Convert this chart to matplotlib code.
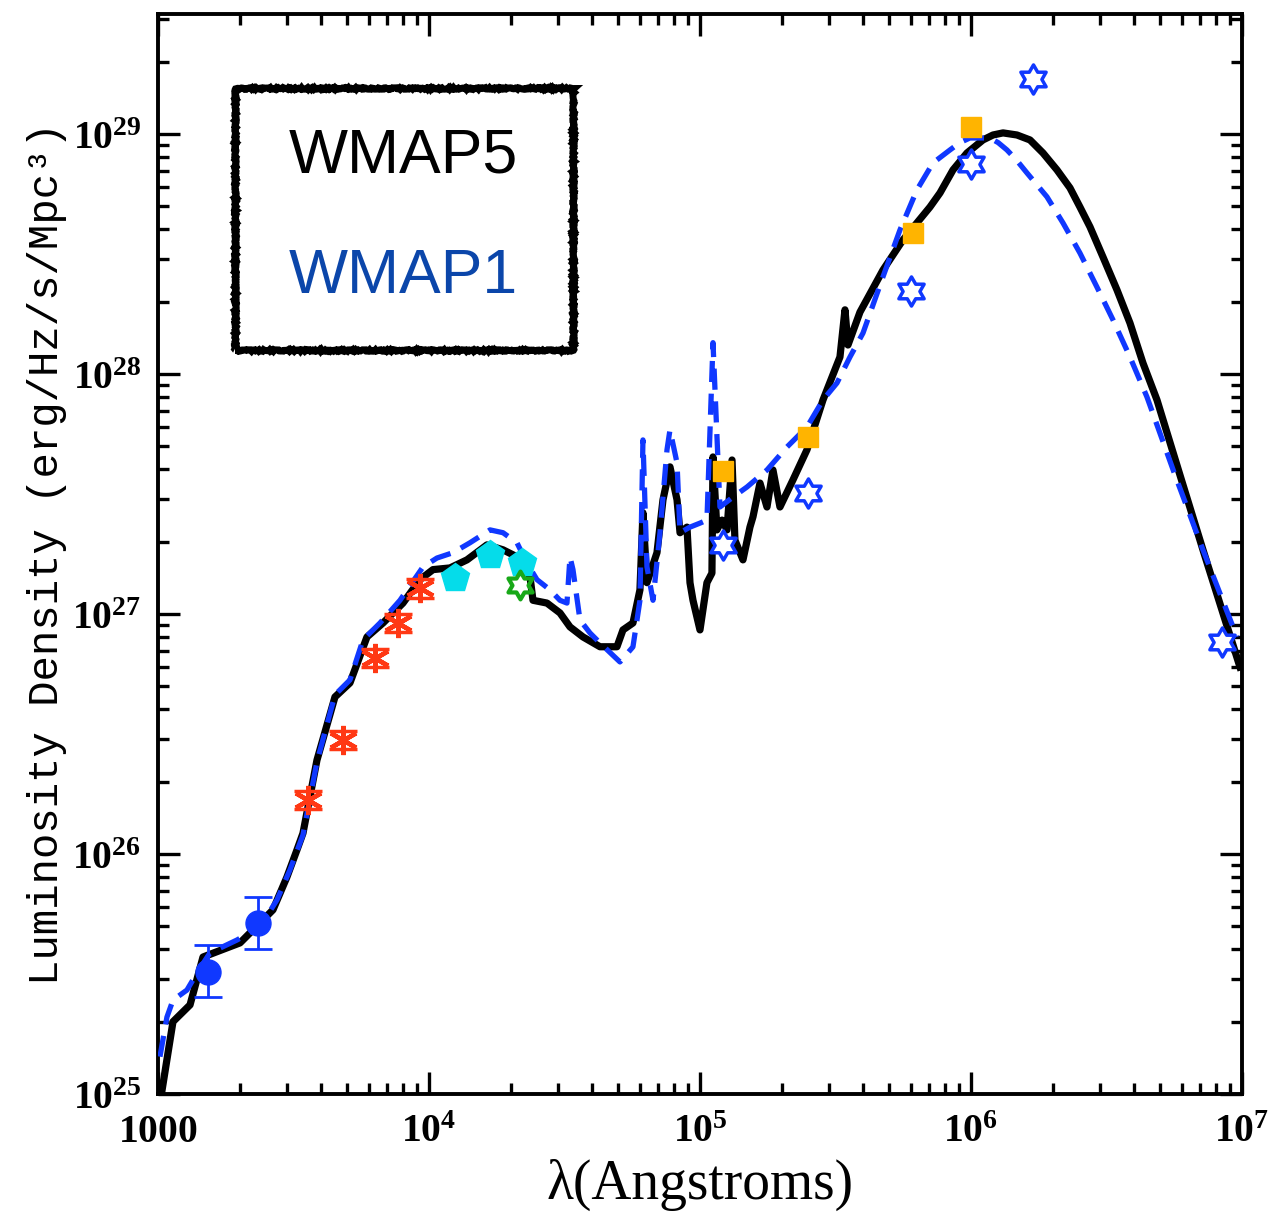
import matplotlib
matplotlib.use('Agg')
import matplotlib.pyplot as plt
import numpy as np
from matplotlib.patches import Rectangle
from matplotlib.path import Path
from matplotlib.ticker import LogLocator, FuncFormatter, NullFormatter

plt.rcParams['mathtext.fontset'] = 'custom'
plt.rcParams['mathtext.rm'] = 'Liberation Serif'
plt.rcParams['mathtext.bf'] = 'Liberation Serif:bold'

# WMAP5 model SED (solid black)
wmap5_wave = [1030, 1136, 1313, 1466, 2008, 2379, 2657, 2992, 3258, 3428,
              3861, 4499, 5110, 5905, 6767, 8018, 9265, 10345, 11955, 13810,
              16370, 18760, 21120, 23590, 24200, 27250, 30430, 33140, 37010, 42760,
              49390, 51990, 56580, 60050, 61600, 63740, 69390, 73030, 77500, 82280,
              84410, 89540, 91860, 94240, 1.0e5, 1.061e5, 1.107e5, 1.117e5, 1.155e5, 1.206e5,
              1.258e5, 1.313e5, 1.346e5, 1.441e5, 1.529e5, 1.569e5, 1.665e5, 1.767e5, 1.859e5, 1.973e5,
              2.204e5, 2.482e5, 2.844e5, 3.285e5, 3.428e5, 3.517e5, 3.894e5, 4.735e5, 5.613e5, 7.058e5,
              7.687e5, 8.583e5, 9.665e5, 1.107e6, 1.206e6, 1.313e6, 1.478e6, 1.651e6, 1.844e6, 2.077e6,
              2.319e6, 2.524e6, 2.749e6, 3.07e6, 3.457e6, 3.861e6, 4.312e6, 4.857e6, 5.905e6, 7.178e6,
              9.83e6]
wmap5_lum = [1.0e25, 2.0e25, 2.35e25, 3.72e25, 4.26e25, 5.16e25, 5.85e25, 8.02e25, 1.04e26, 1.22e26,
             2.46e26, 4.51e26, 5.16e26, 8.02e26, 9.17e26, 1.11e27, 1.39e27, 1.53e27, 1.555e27, 1.68e27,
             1.94e27, 1.85e27, 1.73e27, 1.43e27, 1.14e27, 1.11e27, 1.01e27, 8.83e26, 8.02e26, 7.3e26,
             7.3e26, 8.58e26, 9.17e26, 1.26e27, 2.64e27, 1.35e27, 1.80e27, 2.99e27, 4.10e27, 2.99e27,
             2.18e27, 2.30e27, 1.35e27, 1.14e27, 8.58e26, 1.35e27, 1.48e27, 4.51e27, 2.24e27, 2.46e27,
             2.24e27, 4.38e27, 2.03e27, 1.68e27, 2.30e27, 2.54e27, 3.51e27, 2.79e27, 3.98e27, 2.79e27,
             3.62e27, 4.83e27, 7.79e27, 1.177e28, 1.85e28, 1.32e28, 1.81e28, 2.71e28, 3.62e28, 4.96e28,
             5.68e28, 7.08e28, 8.33e28, 9.44e28, 9.90e28, 1.01e29, 9.90e28, 9.44e28, 8.33e28, 7.08e28,
             5.96e28, 4.96e28, 4.10e28, 3.07e28, 2.24e28, 1.63e28, 1.11e28, 7.79e27, 3.79e27, 1.85e27,
             6.01e26]

# WMAP1 model SED (dashed blue)
wmap1_wave = [1017, 1079, 1136, 1279, 1393, 1555, 1957, 2379, 2748, 3069,
              3428, 3861, 4499, 5110, 5706, 6596, 7816, 9504, 10700, 12260,
              14170, 16800, 18760, 21120, 22990, 25030, 27960, 30430, 32300, 33140,
              33990, 36070, 39280, 42760, 50660, 56580, 60050, 61600, 63740, 67090,
              71190, 75560, 77500, 82280, 84410, 91860, 1.0e5, 1.061e5, 1.117e5, 1.185e5,
              1.324e5, 1.491e5, 1.767e5, 2.094e5, 2.482e5, 2.844e5, 3.203e5, 3.577e5, 3.995e5, 4.735e5,
              5.47e5, 6.32e5, 7.24e5, 8.37e5, 9.1e5, 9.91e5, 1.175e6, 1.26e6, 1.357e6, 1.47e6,
              1.609e6, 1.907e6, 2.185e6, 2.524e6, 2.917e6, 3.342e6, 3.861e6, 4.46e6, 5.66e6, 7.178e6,
              9.58e6]
wmap1_lum = [1.43e25, 2.09e25, 2.46e25, 2.71e25, 3.19e25, 3.87e25, 4.38e25, 4.96e25, 6.43e25, 8.58e25,
             1.20e26, 2.42e26, 4.60e26, 5.31e26, 7.79e26, 9.17e26, 1.14e27, 1.57e27, 1.71e27, 1.80e27,
             1.98e27, 2.24e27, 2.18e27, 1.98e27, 1.63e27, 1.39e27, 1.26e27, 1.14e27, 1.11e27, 1.73e27,
             1.53e27, 9.44e26, 8.33e26, 7.57e26, 6.31e26, 7.29e26, 1.14e27, 5.31e27, 1.57e27, 1.14e27,
             2.18e27, 4.83e27, 5.85e27, 4.26e27, 2.18e27, 2.30e27, 2.39e27, 2.46e27, 1.35e28, 2.79e27,
             3.07e27, 3.38e27, 3.98e27, 4.96e27, 6.01e27, 7.79e27, 9.17e27, 1.177e28, 1.48e28, 2.54e28,
             3.98e28, 5.85e28, 7.57e28, 8.58e28, 9.2e28, 9.62e28, 9.62e28, 9.2e28, 8.58e28, 7.8e28,
             6.88e28, 5.47e28, 4.26e28, 3.19e28, 2.30e28, 1.68e28, 1.177e28, 8.02e27, 3.79e27, 1.85e27,
             8.02e26]

# UV points with error bars
uv_wave = [1530, 2340]
uv_lum = [3.22e25, 5.16e25]
uv_lo = [2.54e25, 4.02e25]
uv_hi = [4.18e25, 6.62e25]

# optical points
opt_wave = [3577, 4817, 6320, 7685, 9265]
opt_lum = [1.68e26, 2.99e26, 6.56e26, 9.17e26, 1.28e27]
opt_lo = [1.54e26, 2.74e26, 6.02e26, 8.41e26, 1.17e27]
opt_hi = [1.83e26, 3.26e26, 7.15e26, 1.00e27, 1.40e27]

# near-IR
nir_wave = [12470, 16800, 22040]
nir_lum = [1.41e27, 1.76e27, 1.63e27]
k_wave = [21670]
k_lum = [1.32e27]

# far-IR / submm
fir_wave = [1.216e5, 2.50e5, 6.11e5, 1.0e6]
fir_lum = [3.94e27, 5.47e27, 3.87e28, 1.07e29]
star_wave = [1.216e5, 2.50e5, 6.0e5, 1.0e6, 1.69e6, 8.43e6]
star_lum = [1.94e27, 3.19e27, 2.22e28, 7.5e28, 1.69e29, 7.64e26]

blue = '#1038ff'
red = '#ff3814'
hexagram = Path.unit_regular_star(6, 0.577)

fig = plt.figure(figsize=(12.75, 12.12), dpi=100)
ax = fig.add_axes([0.1239, 0.0974, 0.8502, 0.8911])

ax.plot(wmap5_wave, wmap5_lum, color='black', lw=5.2, zorder=2,
        solid_joinstyle='round')
ax.plot(wmap1_wave, wmap1_lum, color=blue, lw=3.8, dashes=(4, 2.2), zorder=3)

uv_lum_a = np.array(uv_lum)
ax.errorbar(uv_wave, uv_lum, yerr=[uv_lum_a - uv_lo, np.array(uv_hi) - uv_lum_a],
            fmt='o', color=blue, ms=18, elinewidth=2, capsize=10, capthick=2, zorder=5)

opt_lum_a = np.array(opt_lum)
ax.errorbar(opt_wave, opt_lum, yerr=[opt_lum_a - opt_lo, np.array(opt_hi) - opt_lum_a],
            fmt='none', ecolor=red, elinewidth=2, capsize=10, capthick=2.5, zorder=5)
ax.plot(opt_wave, opt_lum, ls='none', marker=(6, 2, 0), ms=21, mew=3.2, color=red, zorder=5)

ax.plot(nir_wave, nir_lum, ls='none', marker='p', ms=21, color='#05dcea', zorder=5)
ax.plot(k_wave, k_lum, ls='none', marker=hexagram, ms=20, mfc='none', mec='#18a818', mew=3, zorder=6)
ax.plot(fir_wave, fir_lum, ls='none', marker='s', ms=15, color='#ffb400', zorder=5)
ax.plot(star_wave, star_lum, ls='none', marker=hexagram, ms=21, mfc='white', mec=blue, mew=2.5, zorder=5)

ax.set_xscale('log')
ax.set_yscale('log')
ax.set_xlim(1000, 1e7)
ax.set_ylim(1e25, 10 ** 29.5)

def tick_fmt(v, pos):
    e = int(round(np.log10(v)))
    if e == 3:
        return r'$\mathbf{1000}$'
    return r'$\mathbf{10^{%d}}$' % e

for axis in (ax.xaxis, ax.yaxis):
    axis.set_major_locator(LogLocator(base=10, numticks=20))
    axis.set_minor_locator(LogLocator(base=10, subs=np.arange(2, 10), numticks=100))
    axis.set_major_formatter(FuncFormatter(tick_fmt))
    axis.set_minor_formatter(NullFormatter())

ax.tick_params(which='both', direction='in', top=True, right=True, width=2.4, color='black')
ax.tick_params(which='major', length=16, pad=12, labelsize=28.5)
ax.tick_params(which='minor', length=8)
for s in ax.spines.values():
    s.set_linewidth(2.8)

ax.set_xlabel('λ(Angstroms)', fontsize=40, family='Liberation Serif', labelpad=6)
ax.set_ylabel('Luminosity Density (erg/Hz/s/Mpc³)', fontsize=30.5, family='Liberation Mono', labelpad=4)

# legend box with a rough, hand-drawn edge
rect = Rectangle((0.071, 0.689), 0.312, 0.2425, transform=ax.transAxes, fill=False,
                 ec='black', lw=5, zorder=6)
rect.set_sketch_params(scale=0.7, length=1.0, randomness=2)
ax.add_patch(rect)
ax.text(0.226, 0.8528, 'WMAP5', transform=ax.transAxes, ha='center', va='baseline',
        fontsize=45, family='Liberation Sans', color='black')
ax.text(0.226, 0.7417, 'WMAP1', transform=ax.transAxes, ha='center', va='baseline',
        fontsize=45, family='Liberation Sans', color='#0b46aa')

fig.savefig('out.png', dpi=100)
